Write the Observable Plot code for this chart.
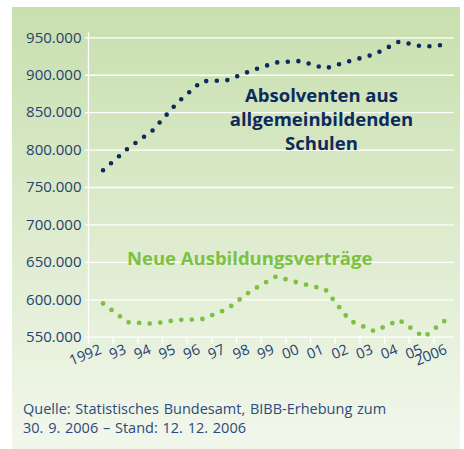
<!DOCTYPE html>
<html><head><meta charset="utf-8">
<script src="https://cdn.jsdelivr.net/npm/d3@7"></script>
<script src="https://cdn.jsdelivr.net/npm/@observablehq/plot@0.6"></script>
<style>
body{margin:0;background:#fff;width:464px;height:449px;overflow:hidden;font-family:"Open Sans",sans-serif}
#panel{position:absolute;left:12px;top:7px;width:448px;height:442px;background:linear-gradient(#c8dfae,#f2f7ec)}
#chart{position:absolute;left:0;top:0}
#caption{position:absolute;left:11px;top:392px;font-size:14.5px;line-height:19px;color:#2c4a7c;white-space:nowrap;word-spacing:1px}
</style></head><body>
<div id="panel"><div id="chart"></div><div id="caption">Quelle: Statistisches Bundesamt, BIBB-Erhebung zum<br>30. 9. 2006 – Stand: 12. 12. 2006</div></div>
<script>
const years = [1992,1993,1994,1995,1996,1997,1998,1999,2000,2001,2002,2003,2004,2005,2006];
const absolventen = [773000,802000,826000,863000,892000,893000,906000,917000,919000,909000,919000,928000,945000,938000,941000];
const ausbildung = [595000,570000,568000,573000,574000,587000,612000,631000,622000,614000,572000,558000,573000,550000,576000];
const yTicks = [550000,600000,650000,700000,750000,800000,850000,900000,950000];
const xTickLabels = ["1992","93","94","95","96","97","98","99","00","01","02","03","04","05","2006"];

const navy = "#0c2a5b", green = "#7dc142", tickText = "#25416f";
const fmt = d3.formatLocale({decimal:",", thousands:".", grouping:[3], currency:["","€"]}).format(",");
const data = years.map((y,i)=>({year:y, abs:absolventen[i], aus:ausbildung[i]}));
const tickPos = years.map(y => y - 0.59);

const plot = Plot.plot({
  width: 448, height: 370,
  marginLeft: 76, marginRight: 6, marginTop: 30.3, marginBottom: 40.3,
  x: {domain: [1991.41, 2006.24], axis: null},
  y: {domain: [550000, 950000], axis: null},
  style: {background: "transparent", fontFamily: "Open Sans"},
  marks: [
    Plot.ruleY(yTicks, {stroke: "white", strokeWidth: 1.3, insetLeft: -3}),
    Plot.ruleX([tickPos[0]], {stroke: "white", strokeWidth: 1.3, insetTop: -5, insetBottom: -7}),
    Plot.axisX(tickPos, {tickSize: 7, tickFormat: () => "", label: null, stroke: "white", strokeWidth: 1.3}),
    Plot.axisY(yTicks, {tickSize: 0, tickPadding: 7, tickFormat: fmt, label: null, fontSize: 15, fill: tickText}),
    Plot.text(xTickLabels, {x: (d,i) => tickPos[i], frameAnchor: "bottom", dx: 14, dy: 16, rotate: -22, textAnchor: "end", fontSize: 14.5, fill: tickText}),
    Plot.line(data, {x: "year", y: "abs", stroke: navy, strokeWidth: 4.6, strokeDasharray: "0 10.6", strokeLinecap: "round"}),
    Plot.line(data, {x: "year", y: "aus", stroke: green, strokeWidth: 4.8, strokeDasharray: "0 10.6", strokeLinecap: "round"}),
    Plot.text(["Absolventen aus\nallgemeinbildenden\nSchulen"], {x: 2000.85, y: 842000, fontSize: 18.5, fontWeight: "bold", fill: navy, lineHeight: 1.3}),
    Plot.text(["Neue Ausbildungsverträge"], {x: 1997.94, y: 654000, fontSize: 18.5, fontWeight: "bold", fill: green})
  ]
});
document.getElementById("chart").appendChild(plot);
</script>
</body></html>
